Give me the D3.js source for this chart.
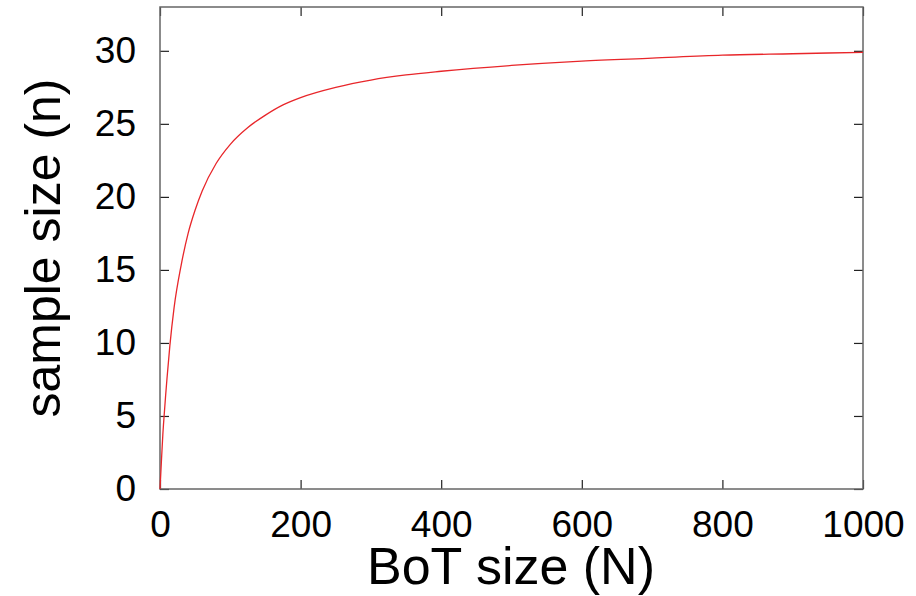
<!DOCTYPE html>
<html>
<head>
<meta charset="utf-8">
<script src="https://cdn.jsdelivr.net/npm/d3@7"></script>
<style>
  body { margin: 0; background: #fff; }
  text { font-family: "Liberation Sans", Arial, sans-serif; fill: #000; }
</style>
</head>
<body>
<div id="place"></div>
<script>
// values
const botSize = [0, 2, 4, 6, 8, 10, 14, 20, 30, 40, 50, 60, 80, 100, 125, 150, 175, 200, 250, 300, 350, 400, 500, 600, 700, 800, 900, 1000];
const sampleSize = [0, 1.9, 3.7, 5.1, 6.4, 7.6, 9.8, 12.4, 15.3, 17.5, 19.1, 20.4, 22.3, 23.6, 24.75, 25.6, 26.3, 26.8, 27.5, 28.0, 28.35, 28.6, 29.0, 29.3, 29.5, 29.7, 29.8, 29.9];
const xTicks = [0, 200, 400, 600, 800, 1000];
const yTicks = [0, 5, 10, 15, 20, 25, 30];

const W = 916, H = 596;
const margin = { top: 7, right: 53, bottom: 107, left: 160 };
const width = W - margin.left - margin.right,
    height = H - margin.top - margin.bottom;

let svg = d3.select("#place").append("svg")
    .attr("width", W)
    .attr("height", H);

let g = svg.append("g")
    .attr("transform", "translate(" + margin.left + "," + margin.top + ")");

let x = d3.scaleLinear().domain([0, 1000]).range([0, width]);
let y = d3.scaleLinear().domain([0, 33]).range([height, 0]);

// ticks drawn inward, mirrored on top and right
g.append("g")
    .attr("transform", "translate(0," + height + ")")
    .call(d3.axisBottom(x).tickValues(xTicks).tickFormat(d3.format("d")).tickSize(-9).tickPadding(22))
    .call(a => a.select(".domain").remove())
    .call(a => a.selectAll("text").style("font-size", "37px"));

g.append("g")
    .call(d3.axisTop(x).tickValues(xTicks).tickSize(-9).tickFormat(""))
    .call(a => a.select(".domain").remove());

g.append("g")
    .call(d3.axisLeft(y).tickValues(yTicks).tickSize(-9).tickPadding(24))
    .call(a => a.select(".domain").remove())
    .call(a => a.selectAll("text").style("font-size", "37px"));

g.append("g")
    .attr("transform", "translate(" + width + ",0)")
    .call(d3.axisRight(y).tickValues(yTicks).tickSize(-9).tickFormat(""))
    .call(a => a.select(".domain").remove());

g.selectAll(".tick line").attr("stroke", "#222").attr("stroke-width", 1.2);

g.append("rect")
    .attr("width", width)
    .attr("height", height)
    .attr("fill", "none")
    .attr("stroke", "#666")
    .attr("stroke-width", 1.5);

let line = d3.line()
    .x((d, i) => x(d))
    .y((d, i) => y(sampleSize[i]))
    .curve(d3.curveMonotoneX);

g.append("path")
    .datum(botSize)
    .attr("d", line)
    .attr("fill", "none")
    .attr("stroke", "#e8262a")
    .attr("stroke-width", 1.3);

svg.append("text")
    .attr("x", 511)
    .attr("y", 584)
    .attr("text-anchor", "middle")
    .style("font-size", "52px")
    .text("BoT size (N)");

svg.append("text")
    .attr("transform", "translate(60,248) rotate(-90)")
    .attr("text-anchor", "middle")
    .style("font-size", "50px")
    .text("sample size (n)");
</script>
</body>
</html>
